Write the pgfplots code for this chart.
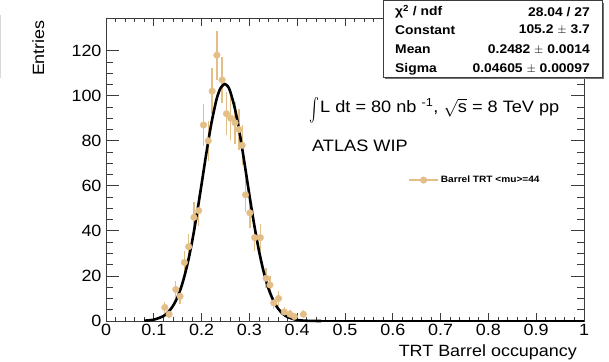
\documentclass[border=0pt]{standalone}
\usepackage{pgfplots}
\pgfplotsset{compat=1.18}
\usepackage{graphicx}
\usepackage{fontspec}
\setmainfont{Liberation Sans}[FakeStretch=1.1]
\definecolor{ptc}{RGB}{228,190,135}
\definecolor{frm}{RGB}{60,60,60}

\begin{document}
\begin{tikzpicture}[x=1pt,y=1pt]
\useasboundingbox (0,0) rectangle (609,361);
\draw[black!15, line width=1pt] (0.5,283) -- (0.5,346);
% y axis ticks and labels (background)
\begin{axis}[
  at={(106pt,40pt)}, anchor=south west,
  width=478pt, height=303pt, scale only axis,
  xmin=0, xmax=1, ymin=0, ymax=134.5,
  xtick=\empty,
  ytick={0,20,...,120}, minor y tick num=3,
  tick align=inside,
  major tick length=13pt, minor tick length=7pt,
  axis line style={frm, line width=0.8pt},
  every tick/.style={frm, line width=0.8pt},
  /pgf/number format/assume math mode=true,
  yticklabel style={font=\fontsize{16.3}{16.3}\selectfont, xshift=-1pt},
]
\end{axis}
% x axis ticks, data and fit
\begin{axis}[
  at={(106pt,40pt)}, anchor=south west,
  width=478pt, height=303pt, scale only axis,
  xmin=0, xmax=1, ymin=0, ymax=134.5,
  clip=false,
  ytick=\empty,
  xtick={0,0.1,...,1.01}, minor x tick num=4,
  xticklabels={0,0.1,0.2,0.3,0.4,0.5,0.6,0.7,0.8,0.9,1},
  tick align=inside,
  major tick length=8pt, minor tick length=4pt,
  axis line style={frm, line width=0.8pt},
  every tick/.style={frm, line width=0.8pt},
  /pgf/number format/assume math mode=true,
  xticklabel style={font=\fontsize{16.3}{16.3}\selectfont},
  legend style={at={(0.632,0.465)}, anchor=west, draw=none, fill=none,
    inner sep=0pt, font=\fontsize{9.2}{10}\selectfont\bfseries},
  legend cell align=left,
  legend image code/.code={
    \draw[ptc, line width=1.6pt] (0pt,0pt) -- (29pt,0pt);
    \fill[ptc] (14.5pt,0pt) circle (3.3pt);
  },
]
\addplot[only marks, mark=*, mark size=3.3pt, color=ptc,
  error bars/.cd, y dir=both, y explicit,
  error bar style={line width=1.4pt, ptc}, error mark=none]
  table[x=x, y=y, y error=e] {
x y e
0.123 6 2.4
0.132 3 1.7
0.146 14 3.7
0.155 11 3.3
0.164 26 5.1
0.173 33 5.7
0.184 46 6.8
0.194 49 7.0
0.204 87 9.3
0.214 80 8.9
0.222 102 10.1
0.232 118 10.9
0.243 107 10.3
0.252 92 9.6
0.261 90 9.5
0.270 88 9.4
0.278 85 9.2
0.285 78 8.8
0.292 56 7.5
0.301 48 6.9
0.311 37 6.1
0.323 37 6.1
0.335 19 4.4
0.343 16 4.0
0.351 8 2.8
0.361 10 3.2
0.373 4 2.0
0.385 3 1.7
0.394 2 1.4
0.413 3 1.7
};
\addlegendentry{Barrel TRT <mu>=44}
\addplot[black, line width=2.6pt, smooth, forget plot] coordinates {
(0.08,0.13) (0.10,0.59) (0.12,2.18) (0.13,3.91) (0.14,6.65) (0.15,10.8)
(0.16,16.8) (0.17,24.9) (0.18,35.1) (0.19,47.3) (0.20,60.8) (0.21,74.6)
(0.22,87.2) (0.23,97.3) (0.235,101.0) (0.24,103.5) (0.2482,105.2) (0.255,104.1)
(0.26,101.8) (0.27,94.0) (0.28,82.9) (0.29,69.7) (0.30,55.9) (0.31,42.8)
(0.32,31.2) (0.33,21.7) (0.34,14.4) (0.35,9.13) (0.36,5.52) (0.37,3.18)
(0.38,1.75) (0.40,0.46) (0.42,0.10) (0.45,0.0)
};
\addplot[black, line width=2.6pt, forget plot] coordinates {(0.45,0) (1,0)};
\end{axis}
% stats box
\fill[black!55] (385,282) rectangle (604,358);
\filldraw[fill=white, draw=frm, line width=0.8pt] (383,284) rectangle (602,360.6);
\begin{scope}[every node/.style={font=\fontsize{12.6}{13}\selectfont\bfseries, inner sep=0pt}]
\node[anchor=west] at (395,349) {χ\textsuperscript{2} / ndf};
\node[anchor=east] at (590,349) {28.04 / 27};
\node[anchor=west] at (395,331) {Constant};
\node[anchor=east] at (590,331) {105.2 $\pm$ 3.7};
\node[anchor=west] at (395,311.5) {Mean};
\node[anchor=east] at (590,311.5) {0.2482 $\pm$ 0.0014};
\node[anchor=west] at (395,292) {Sigma};
\node[anchor=east] at (590,292) {0.04605 $\pm$ 0.00097};
\end{scope}
% texts
\node[anchor=base west, inner sep=0pt, font=\fontsize{16.5}{17}\selectfont] at (309,248)
  {\raisebox{-0.42em}{\scalebox{1.5}[2.3]{$\int$}}\hspace{1pt}L dt = 80 nb \textsuperscript{-1}, $\sqrt{\mbox{s}}$ = 8 TeV pp};
\node[anchor=base west, inner sep=0pt, font=\fontsize{16.5}{17}\selectfont] at (312,209.5) {ATLAS WIP};
\node[anchor=base east, inner sep=0pt, font=\fontsize{16.3}{17}\selectfont] at (577,4.2) {TRT Barrel occupancy};
\node[anchor=base east, inner sep=0pt, rotate=90, font=\fontsize{16.3}{17}\selectfont] at (44,341) {Entries};
\end{tikzpicture}
\end{document}
